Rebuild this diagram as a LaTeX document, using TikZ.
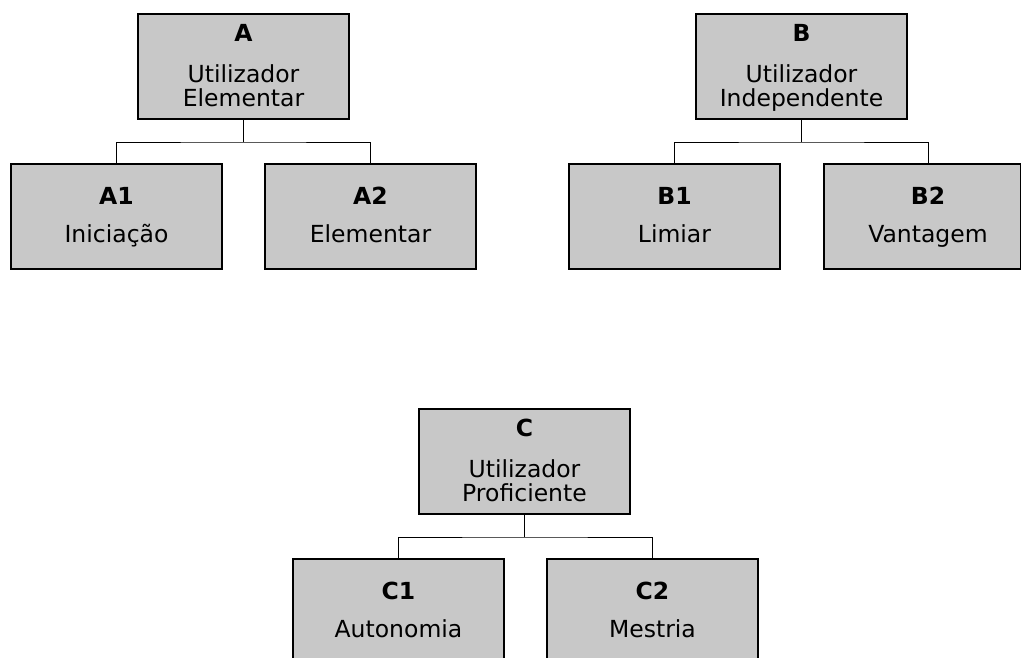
\documentclass[tikz,border=0pt]{standalone}
\usepackage{fontspec}
\setmainfont{DejaVu Sans}
\definecolor{boxgray}{RGB}{200,200,200}
\begin{document}
\begin{tikzpicture}[x=1pt,y=-1pt,
  box/.style={draw=black, line width=2pt, fill=boxgray, minimum height=105pt, inner sep=0pt, anchor=north west},
  wbox/.style={box, minimum width=211pt},
  conn/.style={draw=black, line width=1pt},
  ttl/.style={anchor=base, inner sep=0pt, font=\fontsize{23.5}{24}\selectfont\bfseries},
  txt/.style={anchor=base, inner sep=0pt, font=\fontsize{23.5}{24}\selectfont}
]
\useasboundingbox (0,0) rectangle (1021,657);
% parents
\node[wbox] (A) at (137,13) {};
\node[wbox] (B) at (695,13) {};
\node[wbox] (C) at (418,408) {};
% children
\node[wbox] (A1) at (10,163) {};
\node[wbox] (A2) at (264,163) {};
\node[wbox] (B1) at (568,163) {};
\node[box, minimum width=197pt] (B2) at (823,163) {};
\node[wbox] (C1) at (292,558) {};
\node[wbox] (C2) at (546,558) {};
% connectors
\draw[conn] (A.south) -- ++(0,22);
\draw[conn] (A1.north) |- ([yshift=-22pt]A.south) -| (A2.north);
\draw[conn] (B.south) -- ++(0,22);
\draw[conn] (B1.north) |- ([yshift=-22pt]B.south) -| ([xshift=5.5pt]B2.north);
\draw[conn] (C.south) -- ++(0,22);
\draw[conn] (C1.north) |- ([yshift=-22pt]C.south) -| (C2.north);
% parent texts
\node[ttl] (At) at ([yshift=-28pt]A.north) {A};
\node[txt] (Al1) at ([yshift=-69pt]A.north) {Utilizador};
\node[txt] (Al2) at ([yshift=-93pt]A.north) {Elementar};
\node[ttl] (Bt) at ([yshift=-28pt]B.north) {B};
\node[txt] (Bl1) at ([yshift=-69pt]B.north) {Utilizador};
\node[txt] (Bl2) at ([yshift=-93pt]B.north) {Independente};
\node[ttl] (Ct) at ([yshift=-28pt]C.north) {C};
\node[txt] (Cl1) at ([yshift=-69pt]C.north) {Utilizador};
\node[txt] (Cl2) at ([yshift=-93pt]C.north) {Proficiente};
% child texts
\node[ttl] (A1t) at ([yshift=-41pt]A1.north) {A1};
\node[txt] (A1l) at ([yshift=-79pt]A1.north) {Iniciação};
\node[ttl] (A2t) at ([yshift=-41pt]A2.north) {A2};
\node[txt] (A2l) at ([yshift=-79pt]A2.north) {Elementar};
\node[ttl] (B1t) at ([yshift=-41pt]B1.north) {B1};
\node[txt] (B1l) at ([yshift=-79pt]B1.north) {Limiar};
\node[ttl] (B2t) at ([xshift=5.5pt,yshift=-41pt]B2.north) {B2};
\node[txt] (B2l) at ([xshift=5.5pt,yshift=-79pt]B2.north) {Vantagem};
\node[ttl] (C1t) at ([yshift=-41pt]C1.north) {C1};
\node[txt] (C1l) at ([yshift=-79pt]C1.north) {Autonomia};
\node[ttl] (C2t) at ([yshift=-41pt]C2.north) {C2};
\node[txt] (C2l) at ([yshift=-79pt]C2.north) {Mestria};
\end{tikzpicture}
\end{document}
